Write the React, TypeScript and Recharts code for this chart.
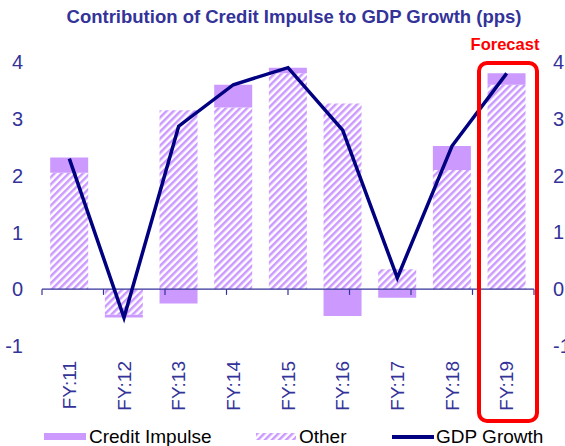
import { ComposedChart, Bar, Line, XAxis, YAxis, ReferenceLine } from 'recharts';

const categories = ['FY:11', 'FY:12', 'FY:13', 'FY:14', 'FY:15', 'FY:16', 'FY:17', 'FY:18', 'FY:19'];
const otherValues = [2.05, -0.45, 3.15, 3.2, 3.8, 3.27, 0.35, 2.1, 3.6];
const creditValues = [0.27, -0.05, -0.25, 0.4, 0.1, -0.47, -0.15, 0.42, 0.2];
const gdpValues = [2.3, -0.5, 2.87, 3.6, 3.9, 2.8, 0.2, 2.52, 3.8];
const yTicks = [-1, 0, 1, 2, 3, 4];
const boundaries = [0, 1, 2, 3, 4, 5, 6, 7, 8, 9];

const data = categories.map((name, i) => ({
  name,
  other: otherValues[i],
  credit: creditValues[i],
  gdp: gdpValues[i],
}));

const NAVY = '#333399';
const LAVENDER = '#CC99FF';
const FONT = 'Arial, "Liberation Sans", sans-serif';

const XTick = ({ x, y, payload }: any) => (
  <text
    x={x}
    y={y}
    transform={`rotate(-90 ${x} ${y})`}
    textAnchor="end"
    dy="0.35em"
    fill={NAVY}
    fontSize={19}
    fontFamily={FONT}
  >
    {payload.value}
  </text>
);

const RightTick = ({ x, y, payload }: any) => (
  <text x={x} y={y} dy="0.35em" textAnchor="start" fill={NAVY} fontSize={20} fontFamily={FONT}>
    {payload.value}
  </text>
);

export default function App() {
  return (
    <div style={{ position: 'absolute', left: 0, top: 0, width: 565, height: 446, background: '#fff', fontFamily: FONT, overflow: 'hidden' }}>
      <div style={{ position: 'absolute', left: 24, top: 6, width: 540, textAlign: 'center', fontSize: 18.5, lineHeight: '22px', fontWeight: 'bold', color: NAVY }}>
        Contribution of Credit Impulse to GDP Growth (pps)
      </div>
      <div style={{ position: 'absolute', left: 455, top: 34, width: 100, textAlign: 'center', fontSize: 16.5, lineHeight: '20px', fontWeight: 'bold', color: '#FF0000' }}>
        Forecast
      </div>
      <ComposedChart
        width={565}
        height={446}
        data={data}
        stackOffset="sign"
        barCategoryGap="15%"
        margin={{ top: 62, right: 0, left: 0, bottom: 0 }}
      >
        <defs>
          <pattern id="hatch" patternUnits="userSpaceOnUse" width="5" height="5" patternTransform="rotate(45)">
            <rect width="5" height="5" fill="#fff" />
            <rect width="2.5" height="5" fill={LAVENDER} />
          </pattern>
        </defs>
        <XAxis
          dataKey="name"
          height={100}
          axisLine={false}
          tickLine={false}
          tickSize={0}
          tickMargin={15}
          interval={0}
          tick={<XTick />}
        />
        <XAxis xAxisId="edges" type="number" domain={[0, 9]} hide />
        <YAxis
          yAxisId="left"
          domain={[-1, 4]}
          ticks={yTicks}
          interval={0}
          width={42}
          axisLine={false}
          tickLine={false}
          tickSize={0}
          tickMargin={19}
          tick={{ fill: NAVY, fontSize: 20, fontFamily: FONT }}
        />
        <YAxis
          yAxisId="right"
          orientation="right"
          domain={[-1, 4]}
          ticks={yTicks}
          interval={0}
          width={31}
          axisLine={false}
          tickLine={false}
          tickSize={0}
          tickMargin={19}
          tick={<RightTick />}
        />
        <Bar dataKey="other" yAxisId="left" stackId="a" fill="url(#hatch)" isAnimationActive={false} />
        <Bar dataKey="credit" yAxisId="left" stackId="a" fill={LAVENDER} isAnimationActive={false} />
        <ReferenceLine y={0} yAxisId="left" stroke={NAVY} strokeWidth={1.2} />
        {boundaries.map((b) => (
          <ReferenceLine
            key={b}
            xAxisId="edges"
            yAxisId="left"
            segment={[{ x: b, y: 0 }, { x: b, y: -0.1 }]}
            stroke={NAVY}
            strokeWidth={1.2}
          />
        ))}
        {/* same -1..4 scale as the left axis, so the line can sit on the right one */}
        <Line
          dataKey="gdp"
          yAxisId="right"
          type="linear"
          stroke="#000080"
          strokeWidth={3.5}
          dot={false}
          activeDot={false}
          isAnimationActive={false}
        />
      </ComposedChart>
      <div style={{ position: 'absolute', left: 477, top: 61, width: 54, height: 354, border: '4px solid #FF0000', borderRadius: 10, pointerEvents: 'none' }} />
      <div style={{ position: 'absolute', left: 0, top: 427, width: 565, height: 20, fontSize: 19, lineHeight: '20px', color: '#000' }}>
        <span style={{ position: 'absolute', left: 44, top: 6, width: 42, height: 7, background: LAVENDER }} />
        <span style={{ position: 'absolute', left: 89, top: 0, whiteSpace: 'nowrap' }}>Credit Impulse</span>
        <svg style={{ position: 'absolute', left: 256, top: 6 }} width={40} height={7}>
          <rect width={40} height={7} fill="url(#hatch)" />
        </svg>
        <span style={{ position: 'absolute', left: 299, top: 0, whiteSpace: 'nowrap' }}>Other</span>
        <span style={{ position: 'absolute', left: 392, top: 8, width: 42, height: 4, background: '#000080' }} />
        <span style={{ position: 'absolute', left: 436, top: 0, whiteSpace: 'nowrap' }}>GDP Growth</span>
      </div>
    </div>
  );
}
